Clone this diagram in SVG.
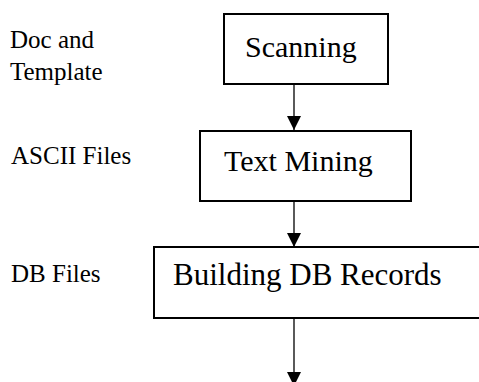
<svg xmlns="http://www.w3.org/2000/svg" width="479" height="382" viewBox="0 0 479 382">
<style>
.box{fill:#fff;stroke:#000;stroke-width:2}
.bt{font-family:"Liberation Serif","Times New Roman",serif;font-size:30px;fill:#000}
.lb{font-family:"Liberation Serif","Times New Roman",serif;font-size:25px;fill:#000}
.cn{stroke:#000;stroke-width:1.3;fill:none}
</style>
<defs>
<marker id="ah" markerWidth="14" markerHeight="15" refX="14" refY="7" orient="auto" markerUnits="userSpaceOnUse">
<path d="M0,0 L14,7 L0,14 Z" fill="#000"/>
</marker>
</defs>
<rect width="479" height="382" fill="#fff"/>
<g id="labels">
<text class="lb" x="10" y="48">Doc and</text>
<text class="lb" x="10" y="80">Template</text>
<text class="lb" x="11" y="164">ASCII Files</text>
<text class="lb" x="11" y="282">DB Files</text>
</g>
<g id="connectors">
<line class="cn" x1="294" y1="84" x2="294" y2="130" marker-end="url(#ah)"/>
<line class="cn" x1="294" y1="201" x2="294" y2="247" marker-end="url(#ah)"/>
<line class="cn" x1="294" y1="318" x2="294" y2="386" marker-end="url(#ah)"/>
</g>
<g id="scanning">
<rect class="box" x="224" y="14" width="164" height="70"/>
<text class="bt" x="245" y="57">Scanning</text>
</g>
<g id="text-mining">
<rect class="box" x="200" y="131" width="211" height="70"/>
<text class="bt" x="224" y="171">Text Mining</text>
</g>
<g id="building-db-records">
<rect class="box" x="154" y="247" width="360" height="71"/>
<text class="bt" x="173" y="285" style="font-size:31px">Building DB Records</text>
</g>
</svg>
